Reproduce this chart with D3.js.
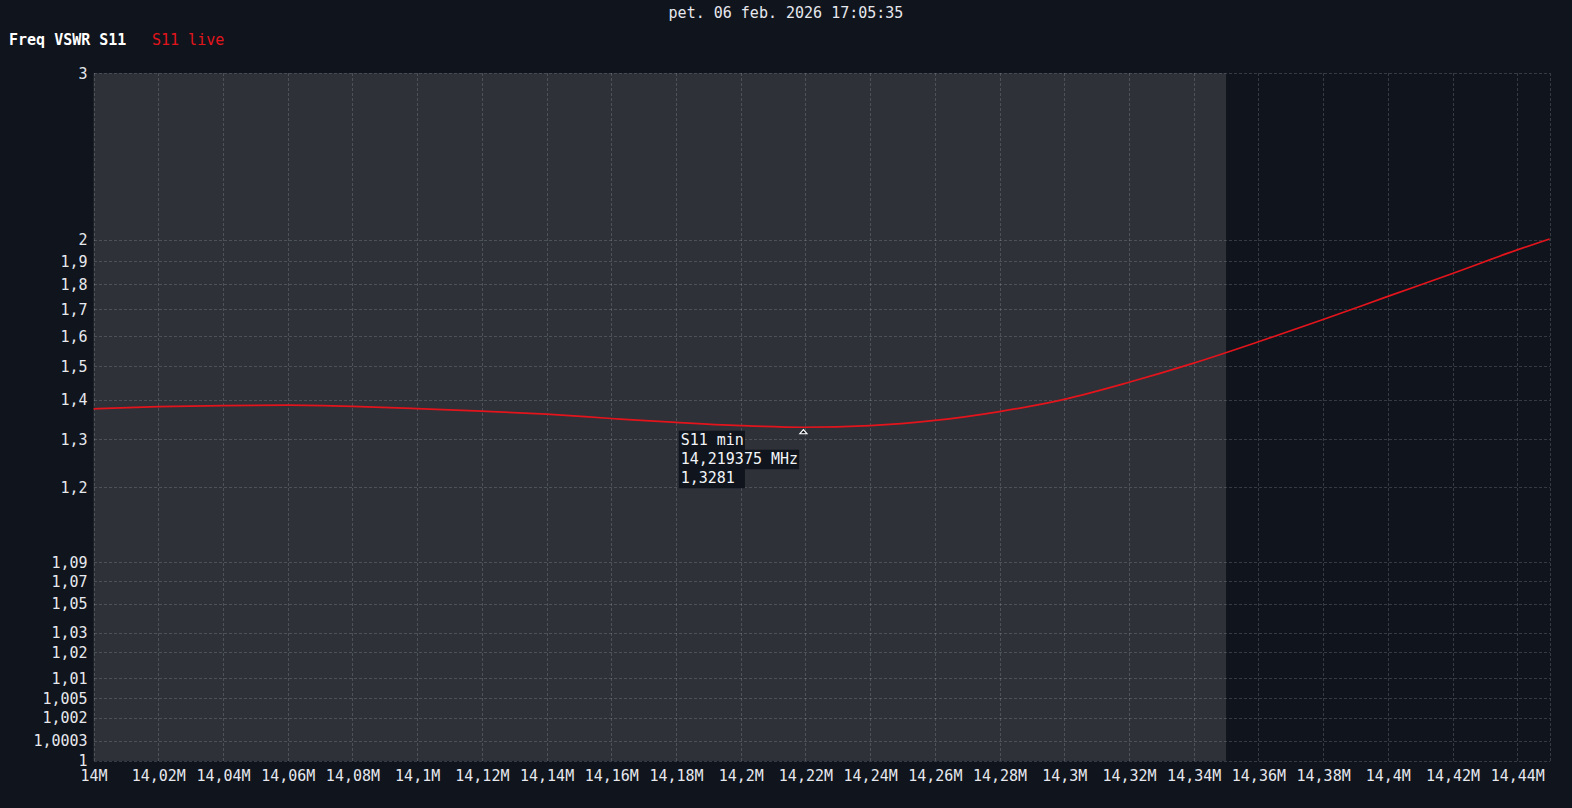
<!DOCTYPE html>
<html>
<head>
<meta charset="utf-8">
<script src="https://cdn.jsdelivr.net/npm/d3@7/dist/d3.min.js"></script>
<style>
  html, body { margin: 0; padding: 0; background: #10141c; }
  svg { display: block; }
  text { font-family: "DejaVu Sans Mono", "Liberation Mono", monospace; }
</style>
</head>
<body>
<svg id="chart" width="1572" height="808"></svg>
<script>
// ---- data ----
const titleText = "pet. 06 feb. 2026 17:05:35";
const legendLabels = ["Freq VSWR S11", "S11 live"];
const freqMHz = [14.00, 14.02, 14.04, 14.06, 14.08, 14.10, 14.12, 14.14, 14.16, 14.18, 14.20, 14.219375,
                 14.24, 14.26, 14.28, 14.30, 14.32, 14.34, 14.36, 14.38, 14.40, 14.42, 14.44, 14.45];
const vswrS11 = [1.375, 1.381, 1.384, 1.385, 1.382, 1.376, 1.369, 1.361, 1.350, 1.340, 1.332, 1.3281,
                 1.332, 1.345, 1.368, 1.401, 1.450, 1.509, 1.580, 1.660, 1.750, 1.846, 1.952, 2.004];
const xTicks = [14.00, 14.02, 14.04, 14.06, 14.08, 14.10, 14.12, 14.14, 14.16, 14.18, 14.20, 14.22,
                14.24, 14.26, 14.28, 14.30, 14.32, 14.34, 14.36, 14.38, 14.40, 14.42, 14.44];
const yTicks = [1, 1.0003, 1.002, 1.005, 1.01, 1.02, 1.03, 1.05, 1.07, 1.09, 1.2, 1.3, 1.4, 1.5,
                1.6, 1.7, 1.8, 1.9, 2, 3];
const bandMHz = [14.00, 14.35];
const minFreq = 14.219375;
const minVswr = 1.3281;
const annotationLines = ["S11 min", "14,219375 MHz", "1,3281"];

// ---- layout ----
const svg = d3.select("#chart");
const pLeft = 93.6, pRight = 1549.6, pTop = 73.2, pBottom = 761;
const x = d3.scaleLinear().domain([14.00, 14.45]).range([pLeft, pRight]);
const yPow = d3.scalePow().exponent(0.4).domain([0, 2]).range([pBottom, pTop]);
const y = v => yPow(v - 1);

const fmtNum = v => String(+v.toFixed(6)).replace(".", ",");
const labelColor = "#e6e8ee";
const gridColor = "rgba(190,195,205,0.22)";
const fs = "15px";

// band shading
svg.append("rect")
  .attr("x", x(bandMHz[0])).attr("y", pTop)
  .attr("width", x(bandMHz[1]) - x(bandMHz[0]))
  .attr("height", pBottom - pTop)
  .attr("fill", "#2e3138");

// grid
const grid = svg.append("g").attr("stroke", gridColor).attr("stroke-width", 1)
  .attr("stroke-dasharray", "3,2").attr("shape-rendering", "crispEdges");
grid.selectAll("line.v").data(xTicks.concat([14.45])).join("line")
  .attr("x1", d => Math.round(x(d)) + 0.5).attr("x2", d => Math.round(x(d)) + 0.5)
  .attr("y1", pTop).attr("y2", pBottom);
grid.selectAll("line.h").data(yTicks).join("line")
  .attr("y1", d => Math.round(y(d)) + 0.5).attr("y2", d => Math.round(y(d)) + 0.5)
  .attr("x1", pLeft).attr("x2", pRight);

// x axis labels
const xAxis = d3.axisBottom(x).tickValues(xTicks).tickSize(0).tickPadding(0)
  .tickFormat(d => fmtNum(d) + "M");
const gx = svg.append("g").attr("transform", `translate(0,${pBottom + 19.5})`).call(xAxis);
gx.select(".domain").remove();
gx.selectAll("text").attr("fill", labelColor).attr("font-size", fs)
  .attr("font-family", "DejaVu Sans Mono, monospace").attr("dy", 0);

// y axis labels
const yAxis = d3.axisLeft(yPow).tickValues(yTicks.map(v => v - 1)).tickSize(0).tickPadding(0)
  .tickFormat(d => fmtNum(d + 1));
const gy = svg.append("g").attr("transform", `translate(${pLeft - 6},0)`).call(yAxis);
gy.select(".domain").remove();
gy.selectAll("text").attr("fill", labelColor).attr("font-size", fs)
  .attr("font-family", "DejaVu Sans Mono, monospace")
  .attr("dy", d => d === 0 ? "0.28em" : "0.34em");

// curve
const pts = freqMHz.map((f, i) => [f, vswrS11[i]]);
const line = d3.line().x(d => x(d[0])).y(d => y(d[1])).curve(d3.curveMonotoneX);
svg.append("path").datum(pts)
  .attr("d", line).attr("fill", "none")
  .attr("stroke", "#e3141c").attr("stroke-width", 1.7);

// min marker
const mx = x(minFreq), my = y(minVswr);
svg.append("path")
  .attr("d", `M${mx},${my + 2.5} L${mx + 3.5},${my + 6.5} L${mx - 3.5},${my + 6.5} Z`)
  .attr("fill", "#10141c").attr("stroke", "#ffffff").attr("stroke-width", 1.2);

// annotation
const ann = svg.append("g");
const tx = mx - 122.7;
const baseY = my + 18;
const lineH = 19;
const texts = annotationLines.map((t, i) => {
  const g = ann.append("g");
  const r = g.append("rect").attr("fill", "#10141c");
  const tt = g.append("text").attr("x", tx).attr("y", baseY + i * lineH)
    .attr("fill", "#f2f4f8").attr("font-size", fs).text(t);
  return [r, tt];
});
const minW = texts[0][1].node().getComputedTextLength();
texts.forEach(([r, tt], i) => {
  const w = tt.node().getComputedTextLength();
  r.attr("x", tx - 2).attr("y", baseY + i * lineH - 14.5)
   .attr("width", Math.max(w, minW) + 3).attr("height", lineH + 0.5);
});

// title
svg.append("text").attr("x", 786).attr("y", 18).attr("text-anchor", "middle")
  .attr("fill", labelColor).attr("font-size", fs).text(titleText);

// legend
svg.append("text").attr("x", 9).attr("y", 45).attr("fill", "#ffffff")
  .attr("font-size", fs).attr("font-weight", "bold").text(legendLabels[0]);
svg.append("text").attr("x", 152).attr("y", 45).attr("fill", "#e3141c")
  .attr("font-size", fs).text(legendLabels[1]);
</script>
</body>
</html>
